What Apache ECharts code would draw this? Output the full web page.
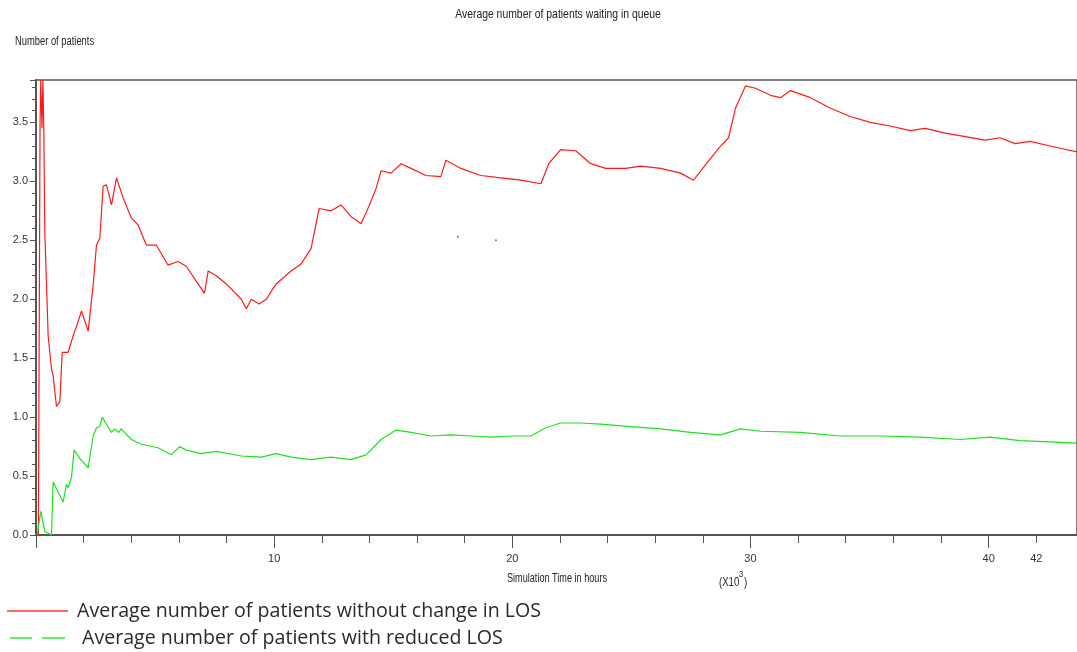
<!DOCTYPE html>
<html>
<head>
<meta charset="utf-8">
<script src="https://cdn.jsdelivr.net/npm/echarts@6/dist/echarts.min.js"></script>
<style>
html,body{margin:0;padding:0;background:#fff;}
#c{width:1077px;height:652px;}
</style>
</head>
<body>
<div id="c"></div>
<script>
// Simulation time in thousands of hours, average queue length
const redSeriesName = 'Average number of patients without change in LOS';
const greenSeriesName = 'Average number of patients with reduced LOS';
const redData = [
[0.1,0.0],[0.17,3.5],[0.2,3.86],[0.25,3.45],[0.29,3.86],[0.33,3.4],[0.37,2.57],[0.51,1.69],[0.65,1.41],[0.72,1.35],
[0.86,1.09],[1.0,1.13],[1.1,1.55],[1.35,1.55],[1.56,1.69],[1.7,1.77],[1.91,1.90],[2.19,1.73],[2.4,2.12],[2.54,2.46],
[2.68,2.52],[2.82,2.96],[2.96,2.97],[3.17,2.80],[3.38,3.03],[3.66,2.86],[4.0,2.69],[4.29,2.63],[4.63,2.46],[5.05,2.46],
[5.54,2.29],[5.96,2.32],[6.31,2.28],[6.94,2.09],[7.07,2.05],[7.23,2.24],[7.57,2.2],[7.99,2.13],[8.62,2.0],[8.83,1.92],
[9.04,2.0],[9.37,1.96],[9.67,2.0],[10.08,2.13],[10.71,2.24],[11.13,2.3],[11.55,2.43],[11.89,2.77],[12.39,2.75],[12.81,2.8],
[13.23,2.7],[13.65,2.64],[13.98,2.79],[14.28,2.94],[14.49,3.09],[14.91,3.07],[15.33,3.15],[15.75,3.11],[16.37,3.05],[17.0,3.04],
[17.21,3.18],[17.84,3.11],[18.68,3.05],[19.52,3.03],[20.36,3.01],[21.2,2.98],[21.53,3.15],[22.03,3.27],[22.66,3.26],[23.29,3.15],
[23.92,3.11],[24.76,3.11],[25.39,3.13],[26.23,3.11],[27.06,3.07],[27.61,3.01],[28.11,3.14],[28.66,3.28],[29.08,3.37],[29.37,3.62],
[29.79,3.81],[30.21,3.79],[30.84,3.73],[31.26,3.71],[31.68,3.77],[32.52,3.71],[33.36,3.62],[34.19,3.55],[35.03,3.50],[35.87,3.47],
[36.71,3.43],[37.34,3.45],[38.18,3.41],[39.02,3.38],[39.85,3.35],[40.48,3.37],[41.11,3.32],[41.74,3.34],[42.58,3.30],[43.71,3.25]
];
const greenData = [
[0.05,0.0],[0.2,0.2],[0.37,0.03],[0.65,0.0],[0.72,0.45],[1.14,0.28],[1.28,0.43],[1.35,0.4],[1.49,0.49],[1.6,0.72],
[1.84,0.65],[2.19,0.57],[2.4,0.84],[2.54,0.91],[2.68,0.92],[2.78,1.0],[2.96,0.94],[3.17,0.87],[3.3,0.9],[3.47,0.87],
[3.58,0.9],[4.0,0.81],[4.42,0.77],[5.12,0.74],[5.68,0.68],[6.03,0.75],[6.31,0.72],[6.94,0.69],[7.57,0.71],[8.62,0.67],
[9.46,0.66],[10.08,0.69],[10.71,0.66],[11.55,0.64],[12.39,0.66],[13.23,0.64],[13.86,0.68],[14.49,0.81],[15.12,0.89],[15.75,0.87],
[16.58,0.84],[17.42,0.85],[18.26,0.84],[19.1,0.83],[19.94,0.84],[20.78,0.84],[21.41,0.91],[22.03,0.95],[22.87,0.95],[23.71,0.94],
[24.97,0.92],[26.23,0.9],[27.48,0.87],[28.74,0.85],[29.58,0.9],[30.42,0.88],[32.1,0.87],[33.77,0.84],[35.45,0.84],[37.13,0.83],
[38.81,0.81],[40.06,0.83],[41.32,0.8],[43.71,0.78]
];
const strayDots = [[17.71,2.53],[19.31,2.50]];
const xTickLabels = [10,20,30,40,42];
const yTickLabels = [0,0.5,1.0,1.5,2.0,2.5,3.0,3.5];

const sansN = '"Liberation Sans", Arial, sans-serif';
const chart = echarts.init(document.getElementById('c'));
chart.setOption({
  animation:false,
  backgroundColor:'#fff',
  grid:{left:36,right:-2,top:80,bottom:117,show:true,borderColor:'#555',borderWidth:1.5},
  legend:[{
    data:[{name:redSeriesName,icon:'path://M0,0h61v2h-61z'}],
    orient:'vertical', left:7, top:601, padding:0, itemWidth:61, itemHeight:2,
    itemStyle:{color:'#ff6a6a'},
    textStyle:{fontFamily:'"Open Sans", sans-serif',fontSize:19.6,color:'#2a2a2a',padding:[0,0,0,4]}
  },{
    data:[{name:greenSeriesName,icon:'path://M0,0h22v2h-22z M32,0h23v2h-23z'}],
    orient:'vertical', left:10, top:628, padding:0, itemWidth:55, itemHeight:2,
    itemStyle:{color:'#66ee66'},
    textStyle:{fontFamily:'"Open Sans", sans-serif',fontSize:19.6,color:'#2a2a2a',padding:[0,0,0,12]}
  }],
  xAxis:{
    type:'value', min:0, max:43.71, interval:10,
    axisLine:{show:true,lineStyle:{color:'#555',width:2}},
    axisTick:{show:true,length:13,inside:false,lineStyle:{color:'#555'}},
    minorTick:{show:true,splitNumber:5,length:8,lineStyle:{color:'#555'}},
    splitLine:{show:false},
    axisLabel:{
      margin:18,fontFamily:sansN,fontSize:11,color:'#333',
      customValues:xTickLabels,
      showMinLabel:true, showMaxLabel:true,
      formatter:v=>String(Math.round(v))
    }
  },
  yAxis:{
    type:'value', min:0, max:3.86, interval:0.5,
    axisLine:{show:true,lineStyle:{color:'#555',width:2}},
    axisTick:{show:true,length:6,lineStyle:{color:'#555'}},
    minorTick:{show:true,splitNumber:5,length:4,lineStyle:{color:'#555'}},
    splitLine:{show:false},
    axisLabel:{margin:8,fontFamily:sansN,fontSize:11,color:'#333',
      showMaxLabel:false,
      formatter:v=>yTickLabels.some(t=>Math.abs(t-v)<1e-6) ? v.toFixed(1) : ''}
  },
  graphic:[
    {type:'text',x:558,y:14,scaleX:0.8,style:{text:'Average number of patients waiting in queue',font:'13px '+sansN,fill:'#222',textAlign:'center',textVerticalAlign:'middle'}},
    {type:'text',x:15,y:42,scaleX:0.78,style:{text:'Number of patients',font:'12px '+sansN,fill:'#222',textAlign:'left',textVerticalAlign:'middle'}},
    {type:'text',x:557,y:579,scaleX:0.76,style:{text:'Simulation Time in hours',font:'12px '+sansN,fill:'#222',textAlign:'center',textVerticalAlign:'middle'}},
    {type:'text',x:719,y:583,scaleX:0.8,style:{text:'(X10',font:'12px '+sansN,fill:'#222',textAlign:'left',textVerticalAlign:'middle'}},
    {type:'text',x:739,y:575,scaleX:0.85,style:{text:'3',font:'9px '+sansN,fill:'#222',textAlign:'left',textVerticalAlign:'middle'}},
    {type:'text',x:744,y:583,scaleX:0.8,style:{text:')',font:'12px '+sansN,fill:'#222',textAlign:'left',textVerticalAlign:'middle'}}
  ],
  series:[
    {name:redSeriesName,type:'line',data:redData,showSymbol:false,symbol:'none',
      lineStyle:{color:'#ff1a1a',width:1.2},itemStyle:{color:'#ff1a1a'}},
    {name:greenSeriesName,type:'line',data:greenData,showSymbol:false,symbol:'none',
      lineStyle:{color:'#1ee01e',width:1.2},itemStyle:{color:'#1ee01e'}},
    {name:'dots',type:'scatter',data:strayDots,symbolSize:2,itemStyle:{color:'#4444ff'},silent:true}
  ]
});
</script>
</body>
</html>
